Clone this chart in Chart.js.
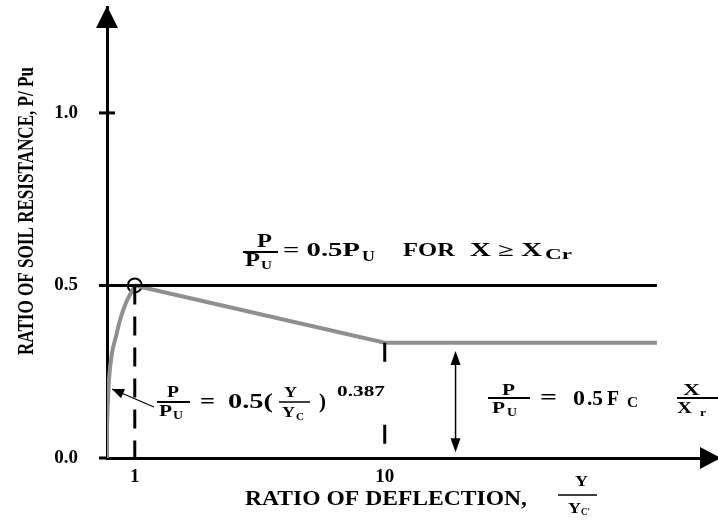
<!DOCTYPE html>
<html>
<head>
<meta charset="utf-8">
<script src="https://cdn.jsdelivr.net/npm/chart.js@4.4.0/dist/chart.umd.min.js"></script>
<style>
  body { margin: 0; background: #fff; }
  canvas { display: block; }
</style>
</head>
<body>
<canvas id="chart" width="718" height="520"></canvas>
<script>
// P/Pu vs Y/Yc curve: parabola up to Y/Yc = 1, softening to 10, then residual plateau
const curveX = [0, 0, 0.03, 0.07, 0.18, 0.32, 0.47, 0.68, 0.86, 1];
const curveY = [0, 0.1, 0.16, 0.226, 0.304, 0.351, 0.4, 0.449, 0.478, 0.5];
const residualX = [1, 10, 19.8];
const residualY = [0.5, 0.334, 0.334];

// upper limit P/Pu = 0.5
const limitX = [0, 19.8];
const limitY = [0.5, 0.5];

// dashed guides at Y/Yc = 1 and 10
const guide1X = [1, 1];
const guide1Y = [0.5, 0];
const guide10X = [10, 10];
const guide10Y = [0.334, 0];

// double arrow marking the residual resistance, and the pointer to the curve
const spanX = 12.55;
const spanY = [0.31, 0.017];
const pointerFrom = [1.69, 0.148];
const pointerTo = [0.18, 0.2];

const xTicks = [1, 10];
const yTicks = [0, 0.5, 1.0];

const SERIF = '"Liberation Serif", "Times New Roman", serif';
const GRAY = "#8f8f8f";

const pts = (xs, ys) => xs.map((x, i) => ({ x: x, y: ys[i] }));

// text squeezed or stretched so it spans a given width
function fitText(ctx, str, x, y, width, size) {
  ctx.save();
  ctx.font = "bold " + size + "px " + SERIF;
  ctx.textBaseline = "alphabetic";
  ctx.textAlign = "left";
  const w = ctx.measureText(str).width;
  ctx.translate(x, y);
  ctx.scale(width / w, 1);
  ctx.fillText(str, 0, 0);
  ctx.restore();
}

function hline(ctx, x1, x2, y, w) {
  ctx.lineWidth = w || 1.5;
  ctx.beginPath();
  ctx.moveTo(x1, y);
  ctx.lineTo(x2, y);
  ctx.stroke();
}

function arrowHead(ctx, fx, fy, tx, ty, len, half) {
  const a = Math.atan2(ty - fy, tx - fx);
  ctx.beginPath();
  ctx.moveTo(tx, ty);
  ctx.lineTo(tx - len * Math.cos(a) + half * Math.sin(a), ty - len * Math.sin(a) - half * Math.cos(a));
  ctx.lineTo(tx - len * Math.cos(a) - half * Math.sin(a), ty - len * Math.sin(a) + half * Math.cos(a));
  ctx.closePath();
  ctx.fill();
}

const axesPlugin = {
  id: "axesDecor",
  beforeDatasetsDraw(chart) {
    const { ctx, chartArea } = chart;
    const ys = chart.scales.y;
    ctx.save();
    ctx.fillStyle = "#000";
    ctx.strokeStyle = "#000";
    // tick marks crossing the vertical axis
    ctx.lineWidth = 3;
    yTicks.forEach(v => {
      const py = ys.getPixelForValue(v);
      ctx.beginPath();
      ctx.moveTo(chartArea.left - 8, py);
      ctx.lineTo(chartArea.left + (v === 0 ? 0 : 8), py);
      ctx.stroke();
    });
    // axis arrow heads
    const lx = chartArea.left;
    ctx.beginPath();
    ctx.moveTo(lx, chartArea.top - 1);
    ctx.lineTo(lx - 11, chartArea.top + 21);
    ctx.lineTo(lx + 11, chartArea.top + 21);
    ctx.closePath();
    ctx.fill();
    const by = chartArea.bottom;
    ctx.beginPath();
    ctx.moveTo(chartArea.right + 3, by);
    ctx.lineTo(chartArea.right - 18, by - 11);
    ctx.lineTo(chartArea.right - 18, by + 11);
    ctx.closePath();
    ctx.fill();
    ctx.restore();
  },
  afterDatasetsDraw(chart) {
    const { ctx } = chart;
    const xs = chart.scales.x;
    const ys = chart.scales.y;
    ctx.save();
    ctx.fillStyle = "#000";
    ctx.strokeStyle = "#000";

    // double arrow over the residual resistance
    const ax = xs.getPixelForValue(spanX);
    const a1 = ys.getPixelForValue(spanY[0]);
    const a2 = ys.getPixelForValue(spanY[1]);
    ctx.lineWidth = 1.5;
    ctx.beginPath();
    ctx.moveTo(ax, a1 + 6);
    ctx.lineTo(ax, a2 - 6);
    ctx.stroke();
    arrowHead(ctx, ax, a2, ax, a1, 14, 5);
    arrowHead(ctx, ax, a1, ax, a2, 14, 5);

    // pointer from the formula to the curve
    const fx = xs.getPixelForValue(pointerFrom[0]);
    const fy = ys.getPixelForValue(pointerFrom[1]);
    const tx = xs.getPixelForValue(pointerTo[0]);
    const ty = ys.getPixelForValue(pointerTo[1]);
    ctx.lineWidth = 1.2;
    ctx.beginPath();
    ctx.moveTo(fx, fy);
    ctx.lineTo(tx, ty);
    ctx.stroke();
    arrowHead(ctx, fx, fy, tx, ty, 12, 5);

    // vertical axis title
    ctx.save();
    ctx.translate(25, 211);
    ctx.rotate(-Math.PI / 2);
    fitText(ctx, "RATIO OF SOIL RESISTANCE, P/ Pu", -144, 8, 288, 23);
    ctx.restore();

    // horizontal axis title with Y / Yc'
    fitText(ctx, "RATIO OF DEFLECTION,", 245, 505, 282, 21);
    fitText(ctx, "Y", 575, 486, 13, 15);
    hline(ctx, 558, 597, 495, 1.3);
    fitText(ctx, "Y", 568, 513, 13, 15);
    fitText(ctx, "C'", 581, 515, 9, 10);

    // P/Pu = 0.5Pu for X >= Xcr
    fitText(ctx, "P", 257, 247, 15, 18);
    hline(ctx, 243, 278, 252, 2);
    fitText(ctx, "P", 245, 266, 15, 18);
    fitText(ctx, "U", 261, 269, 11, 13);
    fitText(ctx, "= 0.5P", 283, 256, 77, 18);
    fitText(ctx, "U", 362, 261, 13, 15);
    fitText(ctx, "FOR", 403, 256, 52, 18);
    fitText(ctx, "X \u2265 X", 470, 256, 72, 18);
    fitText(ctx, "Cr", 545, 259, 27, 14);

    // P/Pu = 0.5(Y/Yc)^0.387
    fitText(ctx, "P", 167, 397, 12, 16);
    hline(ctx, 157, 190, 402, 1.8);
    fitText(ctx, "P", 159, 416, 13, 16);
    fitText(ctx, "U", 173, 419, 10, 12);
    fitText(ctx, "=", 200, 408, 15, 22);
    fitText(ctx, "0.5(", 228, 408, 45, 22);
    fitText(ctx, "Y", 284, 397, 13, 15);
    hline(ctx, 279, 310, 402, 1.5);
    fitText(ctx, "Y", 282, 417, 13, 15);
    fitText(ctx, "C", 296, 420, 8, 11);
    fitText(ctx, ")", 319, 408, 7, 22);
    fitText(ctx, "0.387", 337, 396, 48, 15);

    // P/Pu = 0.5 Fc X/Xr
    fitText(ctx, "P", 502, 395, 13, 17);
    hline(ctx, 488, 530, 398, 1.8);
    fitText(ctx, "P", 492, 413, 13, 17);
    fitText(ctx, "U", 507, 416, 10, 12);
    fitText(ctx, "=", 540, 404, 17, 20);
    fitText(ctx, "0", 573, 405, 12, 21);
    fitText(ctx, ".5", 587, 405, 16, 21);
    fitText(ctx, "F", 607, 405, 12, 21);
    fitText(ctx, "C", 627, 407, 11, 14);
    fitText(ctx, "X", 683, 395, 17, 17);
    hline(ctx, 677, 718, 398, 1.8);
    fitText(ctx, "X", 677, 413, 15, 17);
    fitText(ctx, "r", 700, 416, 6, 11);

    ctx.restore();
  }
};

// keep the scales from reserving extra room around the plot area
const noScalePadding = s => {
  s.paddingTop = 0;
  s.paddingBottom = 0;
  s.paddingLeft = 0;
  s.paddingRight = 0;
};

new Chart(document.getElementById("chart"), {
  type: "scatter",
  data: {
    datasets: [
      {
        data: pts(limitX, limitY),
        showLine: true,
        borderColor: "#000",
        borderWidth: 3,
        pointRadius: 0
      },
      {
        data: pts(guide1X, guide1Y),
        showLine: true,
        borderColor: "#000",
        borderWidth: 3,
        borderDash: [19, 12],
        pointRadius: 0
      },
      {
        data: pts(guide10X, guide10Y),
        showLine: true,
        borderColor: "#000",
        borderWidth: 3,
        borderDash: [19, 63],
        pointRadius: 0
      },
      {
        data: pts(curveX, curveY),
        showLine: true,
        borderColor: GRAY,
        borderWidth: 4,
        cubicInterpolationMode: "monotone",
        pointRadius: 0
      },
      {
        data: pts(residualX, residualY),
        showLine: true,
        borderColor: GRAY,
        borderWidth: 4,
        pointRadius: 0
      },
      {
        // yield point at Y/Yc = 1
        data: pts([curveX[curveX.length - 1]], [curveY[curveY.length - 1]]),
        showLine: false,
        pointRadius: 7,
        pointBorderWidth: 2,
        pointBorderColor: "#000",
        pointBackgroundColor: "rgba(0,0,0,0)"
      }
    ]
  },
  options: {
    responsive: false,
    devicePixelRatio: 1,
    animation: false,
    layout: { autoPadding: false, padding: { top: 7, right: 0, left: 0, bottom: 0 } },
    plugins: {
      legend: { display: false },
      tooltip: { enabled: false }
    },
    scales: {
      x: {
        type: "linear",
        min: 0,
        max: 22,
        afterFit: s => { s.height = 62; noScalePadding(s); },
        afterBuildTicks: s => { s.ticks = xTicks.map(v => ({ value: v })); },
        grid: { display: false, drawTicks: false },
        border: { display: true, color: "#000", width: 3 },
        ticks: {
          padding: 8,
          color: "#000",
          font: { family: SERIF, size: 19, weight: "bold" }
        }
      },
      y: {
        type: "linear",
        min: 0,
        max: 1.307,
        afterFit: s => { s.width = 107; noScalePadding(s); },
        afterBuildTicks: s => { s.ticks = yTicks.map(v => ({ value: v })); },
        grid: { display: false, drawTicks: false },
        border: { display: true, color: "#000", width: 3 },
        ticks: {
          padding: 29,
          color: "#000",
          font: { family: SERIF, size: 19, weight: "bold" },
          callback: v => v.toFixed(1)
        }
      }
    }
  },
  plugins: [axesPlugin]
});
</script>
</body>
</html>
